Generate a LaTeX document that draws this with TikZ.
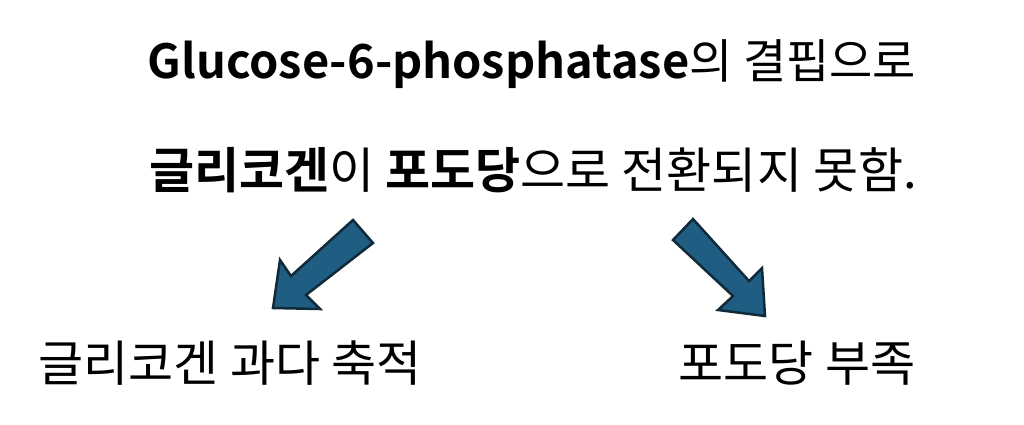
\documentclass[tikz,border=0pt]{standalone}
\usepackage{fontspec}
\setmainfont{Noto Sans CJK KR}[BoldFont={* Bold}]
\usetikzlibrary{positioning}

\definecolor{arrowblue}{RGB}{31,94,130}
\definecolor{arrowline}{RGB}{16,42,58}

\begin{document}
\begin{tikzpicture}[
    x=1pt, y=-1pt, % one unit per pixel of the reference
    every node/.style={inner sep=0pt, anchor=base},
    headline/.style={font=\fontsize{47}{52}\selectfont},
    korean/.style={font=\fontsize{49}{54}\selectfont},
    blockarrow/.style={fill=arrowblue, draw=arrowline, line width=2.5pt, line join=miter}
]
\useasboundingbox (0,0) rectangle (1024,424);

% two lines of the cause
\node[headline] (cause) at (532,78) {\textbf{Glucose-6-phosphatase}의 결핍으로};
\node[korean] (block) at (533,188) {\textbf{글리코겐}이 \textbf{포도당}으로 전환되지 못함.};

% the two outcomes
\node[korean] (excess) at (230,381) {글리코겐 과다 축적};
\node[korean] (lack) at (797,381) {포도당 부족};

% left arrow
\draw[blockarrow] (353,220) -- (373,243) -- (306,295) -- (320,309)
    -- (273,308) -- (280,260) -- (291,276) -- cycle;
% right arrow
\draw[blockarrow] (693,219) -- (673,240) -- (733,296) -- (718,310)
    -- (765,316) -- (762,268) -- (749,281) -- cycle;
\end{tikzpicture}
\end{document}
